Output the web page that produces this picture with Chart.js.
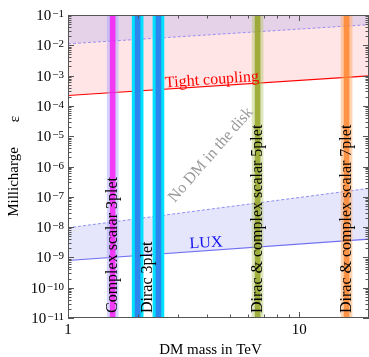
<!DOCTYPE html>
<html><head><meta charset="utf-8">
<script src="https://cdn.jsdelivr.net/npm/chart.js@4/dist/chart.umd.min.js"></script>
<style>html,body{margin:0;padding:0;background:#fff}#wrap{width:369px;height:357px;position:relative}</style>
</head><body><div id="wrap"><canvas id="c"></canvas></div>
<script>
// ---- data ----
const massEnds = [1, 20];                 // TeV, x range of the limit lines
const tightCoupling = [2.2e-4, 9.8e-4];   // red solid line
const tightUpper = [1.12e-2, 4.8e-2];     // purple dashed line
const luxLimit = [7.9e-10, 4.0e-9];       // blue solid line
const luxUpper = [9.5e-9, 1.9e-7];        // blue dashed line
const bandMasses = [1.56, 2.0, 2.46, 6.6, 16.0];   // vertical candidate bands (TeV)
const bandLabels = ['Complex scalar 3plet', 'Dirac 3plet', 'Dirac & complex scalar 5plet', 'Dirac & complex scalar 7plet'];
const bandLabelMasses = [1.56, 2.21, 6.6, 16.0];
const yTickExps = [-11, -10, -9, -8, -7, -6, -5, -4, -3, -2, -1];
const xTickValues = [1, 10];
const xRange = [1, 20];
const yRange = [1e-11, 1e-1];

const FONT = '"Liberation Serif","Times New Roman",serif';

const pts = (ys) => massEnds.map((m, i) => ({x: m, y: ys[i]}));
const bandPts = bandMasses.map(m => ({x: m, y: [yRange[0], yRange[1]]}));

const outerColors = ['rgba(160,160,255,0.45)', '#00e1ff', '#00e1ff', 'rgba(175,195,95,0.42)', 'rgba(255,170,100,0.5)'];
const coreColors = ['rgba(250,20,245,0.8)', '#2b86ee', '#2b86ee', 'rgba(145,160,30,0.8)', 'rgba(255,130,40,0.78)'];

const decor = {
  id: 'decor',
  afterDraw(chart) {
    const ctx = chart.ctx, xs = chart.scales.x, ys = chart.scales.y, a = chart.chartArea;
    ctx.save();
    // text annotations
    ctx.font = '16px ' + FONT; ctx.fillStyle = '#000';
    bandLabels.forEach((t, i) => {
      const px = xs.getPixelForValue(bandLabelMasses[i]);
      ctx.save(); ctx.translate(px + 0.5, a.bottom - 5); ctx.rotate(-Math.PI / 2);
      ctx.textAlign = 'left'; ctx.textBaseline = 'middle'; ctx.fillText(t, 0, 0); ctx.restore();
    });
    const rot = (t, x, y, ang, col, size) => {
      ctx.save(); ctx.translate(xs.getPixelForValue(x), ys.getPixelForValue(y)); ctx.rotate(ang * Math.PI / 180);
      ctx.font = size + 'px ' + FONT; ctx.fillStyle = col; ctx.textAlign = 'center'; ctx.textBaseline = 'middle';
      ctx.fillText(t, 0, 0); ctx.restore();
    };
    rot('Tight coupling', 4.19, 7.2e-4, -4, '#f00', 16);
    rot('LUX', 3.95, 2.95e-9, -3, '#1010ee', 16);
    rot('No DM in the disk', 4.15, 2.4e-6, -49, '#999', 16);

    // frame
    ctx.strokeStyle = '#555'; ctx.lineWidth = 1;
    ctx.strokeRect(a.left + 0.5, a.top + 0.5, a.right - a.left - 1, a.bottom - a.top - 1);
    // y ticks (inward, both sides)
    ctx.beginPath();
    for (let e = -11; e <= -1; e++) {
      for (let k = 1; k <= 9; k++) {
        const v = k * Math.pow(10, e);
        if (v > yRange[1] * 1.0001) continue;
        const py = Math.round(ys.getPixelForValue(v)) + 0.5;
        const L = k === 1 ? 6 : 3.5;
        ctx.moveTo(a.left, py); ctx.lineTo(a.left + L, py);
        ctx.moveTo(a.right, py); ctx.lineTo(a.right - L, py);
      }
    }
    for (let e = 0; e <= 1; e++) {
      for (let k = 1; k <= 9; k++) {
        const v = k * Math.pow(10, e);
        if (v > xRange[1]) continue;
        const px = Math.round(xs.getPixelForValue(v)) + 0.5;
        const L = k === 1 ? 6 : 3.5;
        ctx.moveTo(px, a.bottom); ctx.lineTo(px, a.bottom - L);
        ctx.moveTo(px, a.top); ctx.lineTo(px, a.top + L);
      }
    }
    ctx.stroke();

    // y tick labels 10^e
    ctx.fillStyle = '#000';
    yTickExps.forEach(e => {
      const py = ys.getPixelForValue(Math.pow(10, e));
      const sup = '\u2212' + Math.abs(e);
      ctx.font = '11px ' + FONT; ctx.textAlign = 'right'; ctx.textBaseline = 'alphabetic';
      const sw = ctx.measureText(sup).width;
      ctx.fillText(sup, a.left - 4, py + 2);
      ctx.font = '15px ' + FONT;
      ctx.fillText('10', a.left - 5 - sw, py + 5);
    });
    // x tick labels
    ctx.font = '15px ' + FONT; ctx.textAlign = 'center'; ctx.textBaseline = 'alphabetic';
    xTickValues.forEach(v => ctx.fillText(String(v), xs.getPixelForValue(v), a.bottom + 16));
    // axis titles
    ctx.fillText('DM mass in TeV', (a.left + a.right) / 2 - 8, a.bottom + 36);
    ctx.save(); ctx.translate(18, 182); ctx.rotate(-Math.PI / 2);
    ctx.textAlign = 'center'; ctx.fillText('Millicharge', 0, 0); ctx.restore();
    ctx.save(); ctx.translate(19, 119); ctx.rotate(-Math.PI / 2);
    ctx.textAlign = 'center'; ctx.fillText('\u03b5', 0, 0); ctx.restore();
    ctx.restore();
  }
};

new Chart(document.getElementById('c'), {
  type: 'line',
  data: {
    datasets: [
      {label: 'upper', data: pts(tightUpper), borderColor: '#9b8df0', borderWidth: 1, borderDash: [3, 2],
       fill: 'end', backgroundColor: '#e6d2e8', pointRadius: 0, order: 5},
      {label: 'Tight coupling', data: pts(tightCoupling), borderColor: '#ff0000', borderWidth: 1.2,
       fill: '-1', backgroundColor: '#ffe5e5', pointRadius: 0, order: 5},
      {label: 'LUX upper', data: pts(luxUpper), borderColor: '#8f8ff2', borderWidth: 1, borderDash: [3, 2],
       fill: false, pointRadius: 0, order: 5},
      {label: 'LUX', data: pts(luxLimit), borderColor: '#6f6ff2', borderWidth: 1.2,
       fill: '-1', backgroundColor: '#e5e5fb', pointRadius: 0, order: 5},
      {type: 'bar', label: 'band outer', data: bandPts, backgroundColor: outerColors, barThickness: 11,
       grouped: false, borderWidth: 0, order: 1},
      {type: 'bar', label: 'band core', data: bandPts, backgroundColor: coreColors, barThickness: 5,
       grouped: false, borderWidth: 0, order: 0}
    ]
  },
  options: {
    responsive: true, maintainAspectRatio: false, animation: false,
    layout: {padding: {left: 68, top: 15, right: 0, bottom: 39}},
    plugins: {legend: {display: false}, tooltip: {enabled: false}},
    scales: {
      x: {type: 'logarithmic', min: xRange[0], max: xRange[1], display: false},
      y: {type: 'logarithmic', min: yRange[0], max: yRange[1], display: false}
    }
  },
  plugins: [decor]
});
</script></body></html>
